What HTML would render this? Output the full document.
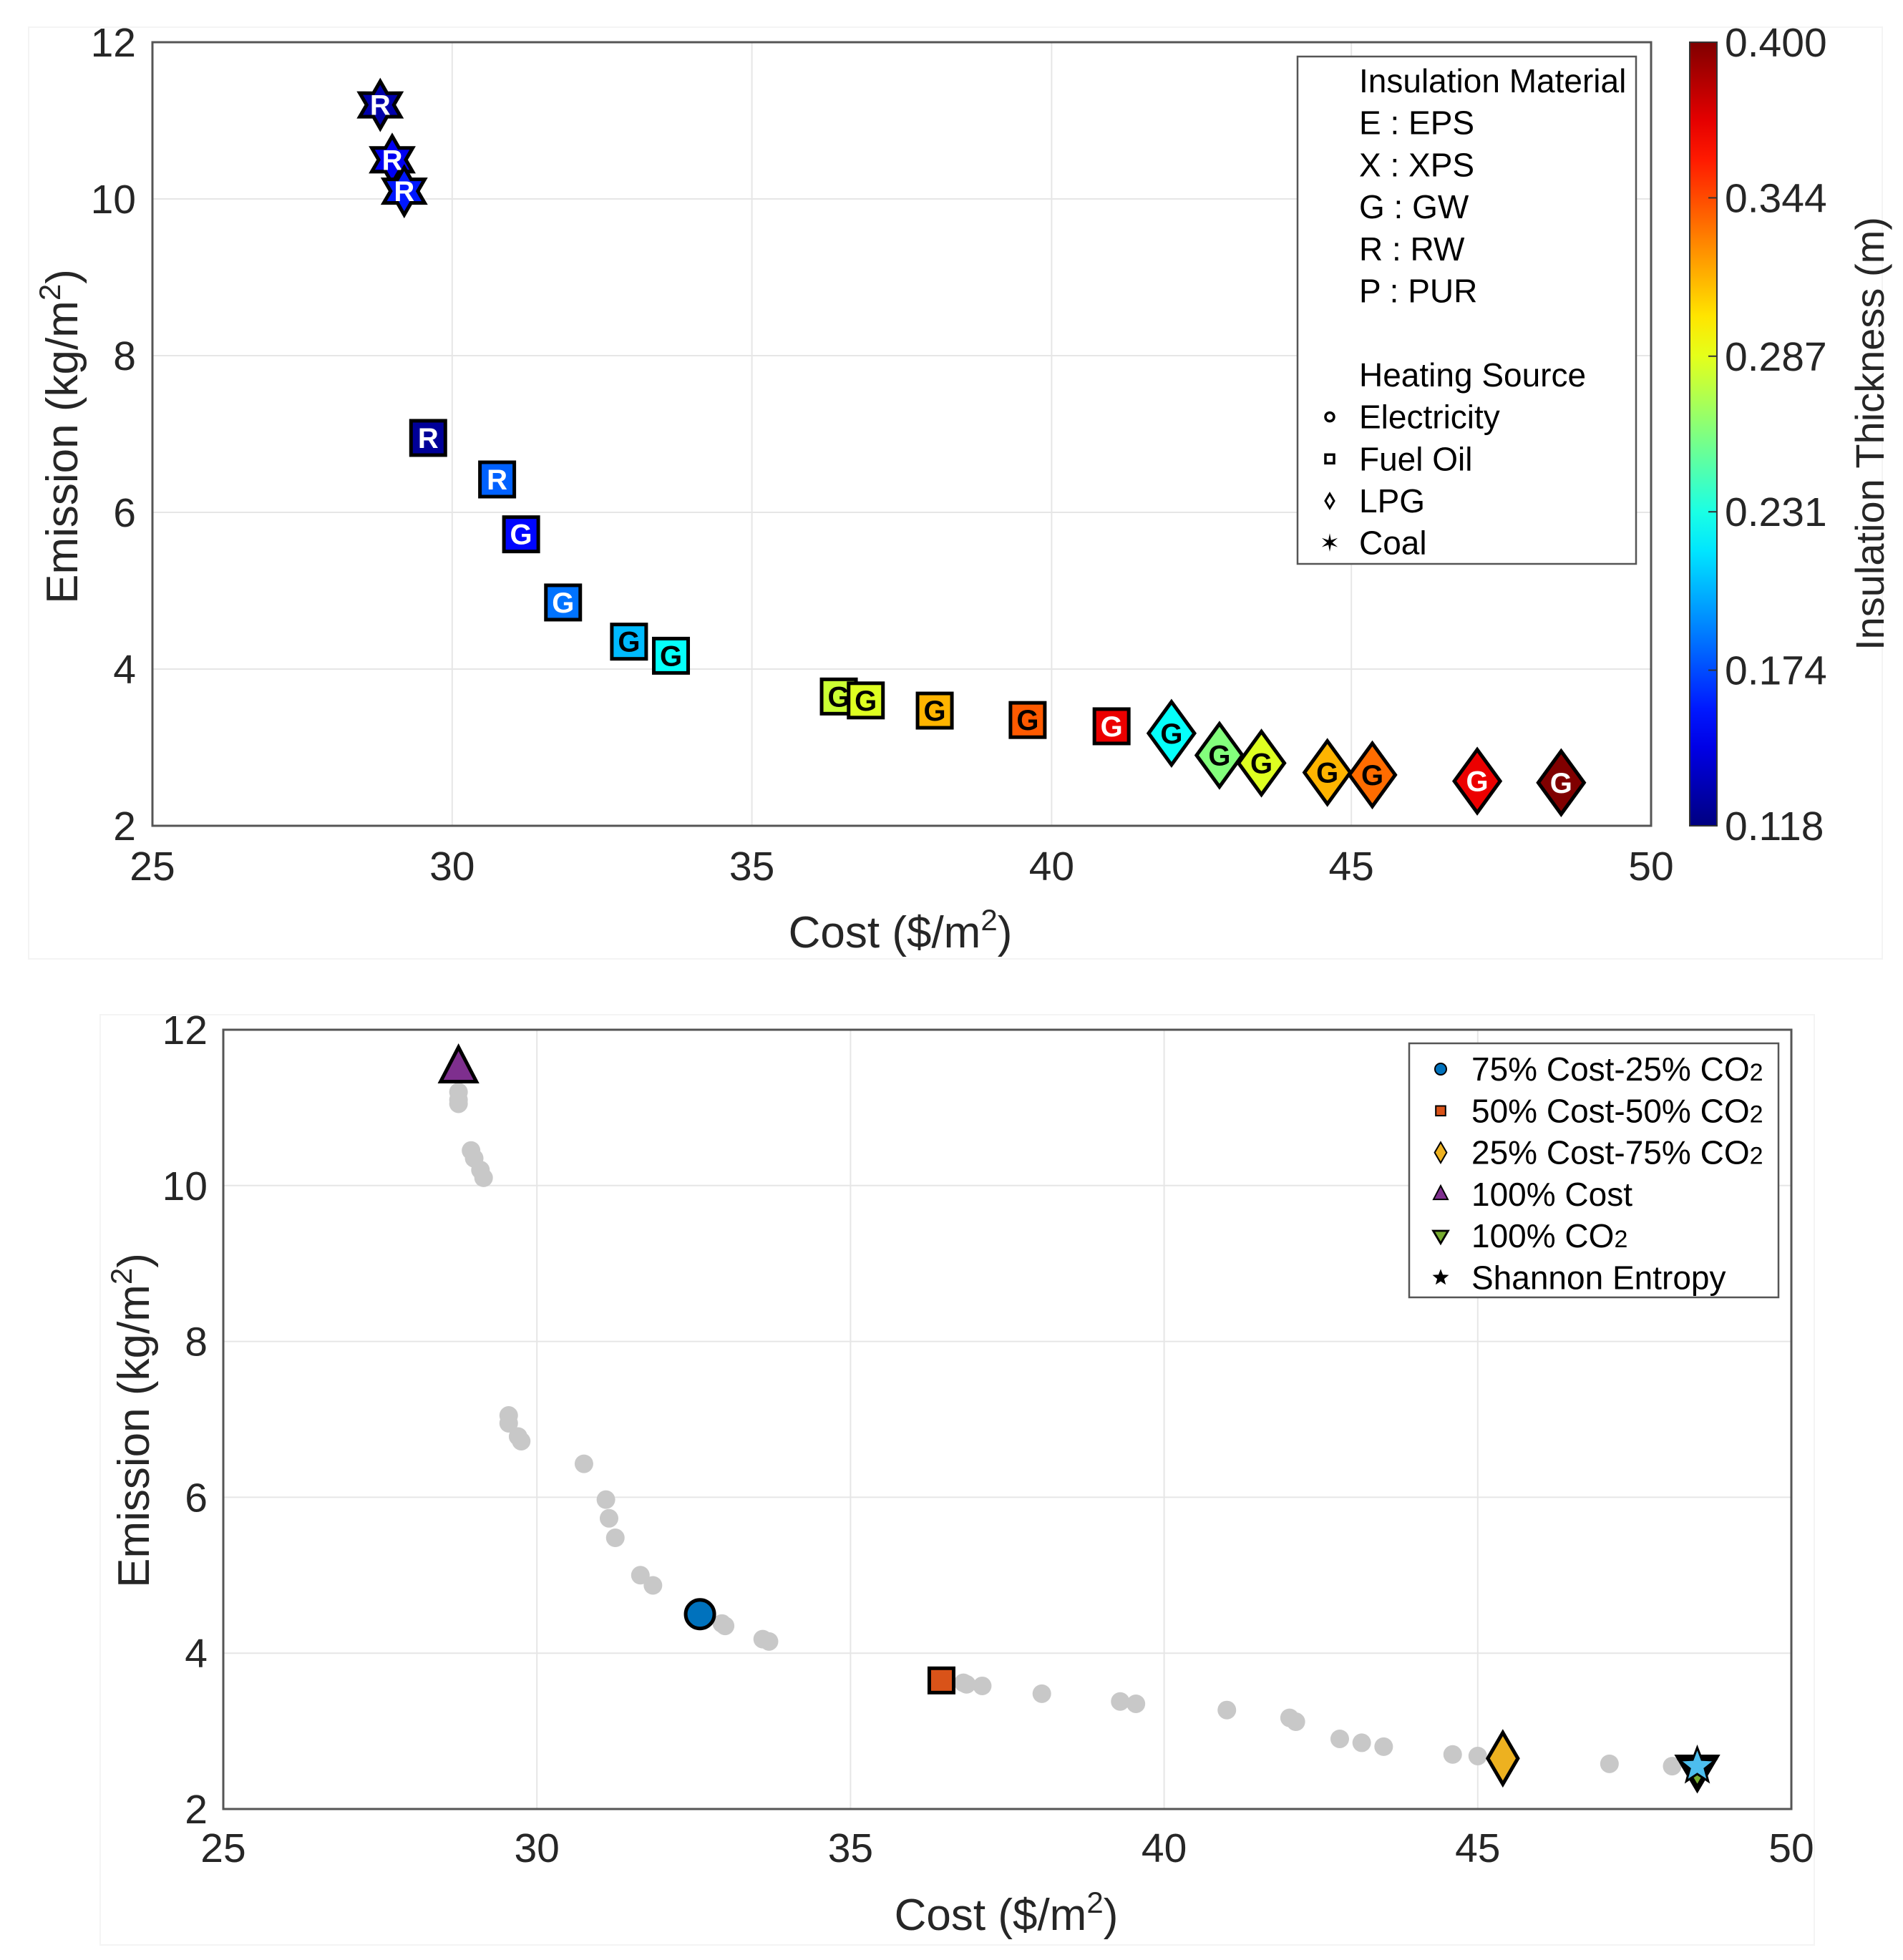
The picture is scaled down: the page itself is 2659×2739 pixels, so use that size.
<!DOCTYPE html>
<html><head><meta charset="utf-8">
<style>
html,body{margin:0;padding:0;background:#fff;}
svg{display:block;font-family:"Liberation Sans",Arial,sans-serif;}
</style></head>
<body>
<svg id="fig" width="2659" height="2739" viewBox="0 0 2659 2739" xmlns="http://www.w3.org/2000/svg">
<rect x="0" y="0" width="2659" height="2739" fill="#fff"/>
<rect x="40" y="38" width="2590" height="1302" fill="none" stroke="#f4f4f4" stroke-width="2"/>
<rect x="140" y="1418" width="2395" height="1300" fill="none" stroke="#f4f4f4" stroke-width="2"/>
<g id="top"></g>
<g id="bot"></g>
</svg>
<script>
// ---------- TOP CHART DATA ----------
const topCost      = [28.8,29.0,29.2, 29.6,30.75,31.15,31.85,32.95,33.65,36.45,36.9,38.05,39.6,41.0, 42.0,42.8,43.5,44.6,45.35,47.1,48.5];
const topEmission  = [11.2,10.5,10.1, 6.95,6.42,5.72,4.85,4.35,4.17,3.65,3.6,3.47,3.35,3.27, 3.18,2.9,2.8,2.68,2.65,2.57,2.55];
const topThickness = [0.13,0.15,0.16, 0.125,0.18,0.155,0.185,0.205,0.225,0.28,0.285,0.315,0.34,0.37, 0.225,0.26,0.285,0.315,0.335,0.37,0.4];
const topShape     = ['star','star','star','sq','sq','sq','sq','sq','sq','sq','sq','sq','sq','sq','dia','dia','dia','dia','dia','dia','dia'];
const topLetter    = ['R','R','R','R','R','G','G','G','G','G','G','G','G','G','G','G','G','G','G','G','G'];
const xTicks = [25,30,35,40,45,50];
const yTicks = [2,4,6,8,10,12];
const cbTicks = ['0.118','0.174','0.231','0.287','0.344','0.400'];
const cbMin = 0.118, cbMax = 0.400;

// ---------- BOTTOM CHART DATA ----------
const grayCost = [28.75,28.75,28.75,28.95,29.0,29.1,29.15,29.55,29.55,29.7,29.75,30.75,31.1,31.15,31.25,31.65,31.85,32.95,33.0,33.6,33.7,36.8,36.85,37.1,38.05,39.3,39.55,41.0,42.0,42.1,42.8,43.15,43.5,44.6,45.0,47.1,48.1];
const grayEmis = [11.2,11.1,11.05,10.45,10.35,10.2,10.1,7.05,6.95,6.78,6.72,6.43,5.97,5.73,5.48,5.0,4.87,4.38,4.35,4.18,4.15,3.62,3.6,3.58,3.48,3.38,3.35,3.27,3.17,3.12,2.9,2.85,2.8,2.7,2.68,2.58,2.55];
const hiNames = ['75% Cost-25% CO2','50% Cost-50% CO2','25% Cost-75% CO2','100% Cost','100% CO2','Shannon Entropy'];
const hiCost  = [32.6,36.45,45.4,28.75,48.5,48.5];
const hiEmis  = [4.5,3.65,2.65,11.5,2.5,2.55];

const NS='http://www.w3.org/2000/svg';
function el(parent,tag,attrs,text){const e=document.createElementNS(NS,tag);for(const k in attrs)e.setAttribute(k,attrs[k]);if(text!==undefined)e.textContent=text;parent.appendChild(e);return e;}

function jet(t){t=Math.max(0,Math.min(1,t));
 const f=v=>Math.round(255*Math.max(0,Math.min(1,v)));
 const r=f(Math.min(4*t-1.5,-4*t+4.5)), g=f(Math.min(4*t-0.5,-4*t+3.5)), b=f(Math.min(4*t+0.5,-4*t+2.5));
 return [r,g,b];}

function axes(g,L,R,T,B,xl,yl,nm){
 const sx=v=>L+(v-25)/25*(R-L), sy=v=>B-(v-2)/10*(B-T);
 xTicks.forEach(v=>{const l=el(g,'line',{x1:sx(v),x2:sx(v),y1:T,y2:B,stroke:'#e6e6e6','stroke-width':2});
  
  const t=el(g,'text',{x:sx(v),y:xl,'font-size':57,'text-anchor':'middle',fill:'#262626'},v);
  });
 yTicks.forEach(v=>{const l=el(g,'line',{x1:L,x2:R,y1:sy(v),y2:sy(v),stroke:'#e6e6e6','stroke-width':2});
  
  const t=el(g,'text',{x:yl,y:sy(v)+20,'font-size':57,'text-anchor':'end',fill:'#262626'},v);
  });
 const f=el(g,'rect',{x:L,y:T,width:R-L,height:B-T,fill:'none',stroke:'#555','stroke-width':3});
 
 return [sx,sy];
}

// ---------- TOP ----------
(function(){
 const g=document.getElementById('top');
 const L=213,R=2307,T=59,B=1154;
 const [sx,sy]=axes(g,L,R,T,B,1230,190);
 let t=el(g,'text',{x:1258,y:1324,'font-size':62,'text-anchor':'middle',fill:'#262626'});
 t.innerHTML='Cost ($/m<tspan dy="-24" font-size="42">2</tspan><tspan dy="24">)</tspan>';
 
 t=el(g,'text',{transform:'translate(108,610) rotate(-90)','font-size':62,'text-anchor':'middle',fill:'#262626'});
 t.innerHTML='Emission (kg/m<tspan dy="-24" font-size="42">2</tspan><tspan dy="24">)</tspan>';
 
 const defs=el(g,'defs',{});const lg=el(defs,'linearGradient',{id:'jetg',x1:0,y1:1,x2:0,y2:0});
 for(let i=0;i<=20;i++){const c=jet(i/20);el(lg,'stop',{offset:(i/20),'stop-color':`rgb(${c})`});}
 const cb=el(g,'rect',{x:2361,y:59,width:38,height:1095,fill:'url(#jetg)',stroke:'#333','stroke-width':2});
 
 cbTicks.forEach(s=>{const v=parseFloat(s);const y=1154-(v-cbMin)/(cbMax-cbMin)*1095;
  el(g,'line',{x1:2387,x2:2399,y1:y,y2:y,stroke:'#333','stroke-width':2});
  const tt=el(g,'text',{x:2410,y:y+20,'font-size':57,fill:'#262626'},s);
  });
 t=el(g,'text',{transform:'translate(2632,606) rotate(-90)','font-size':56,'text-anchor':'middle',fill:'#262626'},'Insulation Thickness (m)');
 
 topCost.forEach((c,i)=>{
  const x=sx(c),y=sy(topEmission[i]);const tn=(topThickness[i]-cbMin)/(cbMax-cbMin);const col=jet(tn);
  const fill=`rgb(${col})`;let m;
  if(topShape[i]==='sq'){m=el(g,'rect',{x:x-24,y:y-24,width:48,height:48,fill:fill,stroke:'#000','stroke-width':5});}
  else if(topShape[i]==='dia'){m=el(g,'polygon',{points:`${x},${y-44} ${x+32},${y} ${x},${y+44} ${x-32},${y}`,fill:fill,stroke:'#000','stroke-width':5});}
  else{const r=33,r2=r*0.5;let p=[];for(let k=0;k<12;k++){const a=-Math.PI/2+k*Math.PI/6;const rr=k%2?r2*1.15:r;p.push((x+rr*Math.cos(a)).toFixed(1)+','+(y+rr*Math.sin(a)).toFixed(1));}
   m=el(g,'polygon',{points:p.join(' '),fill:fill,stroke:'#000','stroke-width':5});}
  
  
  const lum=0.3*col[0]+0.59*col[1]+0.11*col[2];
  const lt=el(g,'text',{x:x,y:y+14,'font-size':40,'font-weight':'bold','text-anchor':'middle',fill:lum>110?'#000':'#fff'},topLetter[i]);
  
  
 });
 const lb=el(g,'rect',{x:1813,y:79,width:473,height:709,fill:'#fff',stroke:'#555','stroke-width':2.5});
 
 const lines=['Insulation Material','E : EPS','X : XPS','G : GW','R : RW','P : PUR','','Heating Source','Electricity','Fuel Oil','LPG','Coal'];
 lines.forEach((s,i)=>{if(!s)return;const y=113+i*58.7+16;
  const tt=el(g,'text',{x:1899,y:y,'font-size':46,fill:'#000'},s);
  
  const mx=1858,my=y-16;
  if(s==='Electricity')el(g,'circle',{cx:mx,cy:my,r:6,fill:'#fff',stroke:'#000','stroke-width':3.5});
  if(s==='Fuel Oil')el(g,'rect',{x:mx-6,y:my-6,width:12,height:12,fill:'#fff',stroke:'#000','stroke-width':3.5});
  if(s==='LPG')el(g,'polygon',{points:`${mx},${my-10} ${mx+6},${my} ${mx},${my+10} ${mx-6},${my}`,fill:'#fff',stroke:'#000','stroke-width':3});
  if(s==='Coal')el(g,'text',{x:mx,y:my+12,'font-size':34,'text-anchor':'middle'},'✶');
 });
})();

// ---------- BOTTOM ----------
(function(){
 const g=document.getElementById('bot');
 const L=312,R=2503,T=1439,B=2528;
 const [sx,sy]=axes(g,L,R,T,B,2602,290);
 let t=el(g,'text',{x:1406,y:2697,'font-size':62,'text-anchor':'middle',fill:'#262626'});
 t.innerHTML='Cost ($/m<tspan dy="-24" font-size="42">2</tspan><tspan dy="24">)</tspan>';
 
 t=el(g,'text',{transform:'translate(208,1985) rotate(-90)','font-size':62,'text-anchor':'middle',fill:'#262626'});
 t.innerHTML='Emission (kg/m<tspan dy="-24" font-size="42">2</tspan><tspan dy="24">)</tspan>';
 
 grayCost.forEach((c,i)=>{const d=el(g,'circle',{cx:sx(c),cy:sy(grayEmis[i]),r:13,fill:'#c8c8c8'});
  
  });
 const cols=['#0072BD','#D95319','#EDB120','#7E2F8E','#77AC30','#4DBEEE'];
 function mk(i,x,y,s){let m;
  if(i===0)m=el(g,'circle',{cx:x,cy:y,r:20*s,fill:cols[0],stroke:'#000','stroke-width':5*s});
  if(i===1)m=el(g,'rect',{x:x-17*s,y:y-17*s,width:34*s,height:34*s,fill:cols[1],stroke:'#000','stroke-width':5*s});
  if(i===2)m=el(g,'polygon',{points:`${x},${y-36*s} ${x+21*s},${y} ${x},${y+36*s} ${x-21*s},${y}`,fill:cols[2],stroke:'#000','stroke-width':5*s});
  if(i===3)m=el(g,'polygon',{points:`${x},${y-30*s} ${x+25*s},${y+18*s} ${x-25*s},${y+18*s}`,fill:cols[3],stroke:'#000','stroke-width':5*s});
  if(i===4)m=el(g,'polygon',{points:`${x},${y+26*s} ${x+26*s},${y-18*s} ${x-26*s},${y-18*s}`,fill:cols[4],stroke:'#000','stroke-width':7*s});
  if(i===5){const p=[];for(let k=0;k<10;k++){const a=-Math.PI/2+k*Math.PI/5;const rr=k%2?11*s:26*s;p.push((x+rr*Math.cos(a)).toFixed(1)+','+(y+rr*Math.sin(a)).toFixed(1));}
   m=el(g,'polygon',{points:p.join(' '),fill:s<1?'#000':cols[5],stroke:'#000','stroke-width':3*s});}
  return m;}
 hiCost.forEach((c,i)=>{const m=mk(i,sx(c),sy(hiEmis[i]),1);
  
  });
 const lb=el(g,'rect',{x:1969,y:1458,width:516,height:355,fill:'#fff',stroke:'#555','stroke-width':2.5});
 
 hiNames.forEach((s,i)=>{const y=1494+i*58.3;
  mk(i,2013,y,0.4);
  const tt=el(g,'text',{x:2056,y:y+16,'font-size':46,fill:'#000'});
  tt.innerHTML=s.replace('CO2','CO<tspan font-size="34">2</tspan>');
  });
})();
</script>
</body></html>
